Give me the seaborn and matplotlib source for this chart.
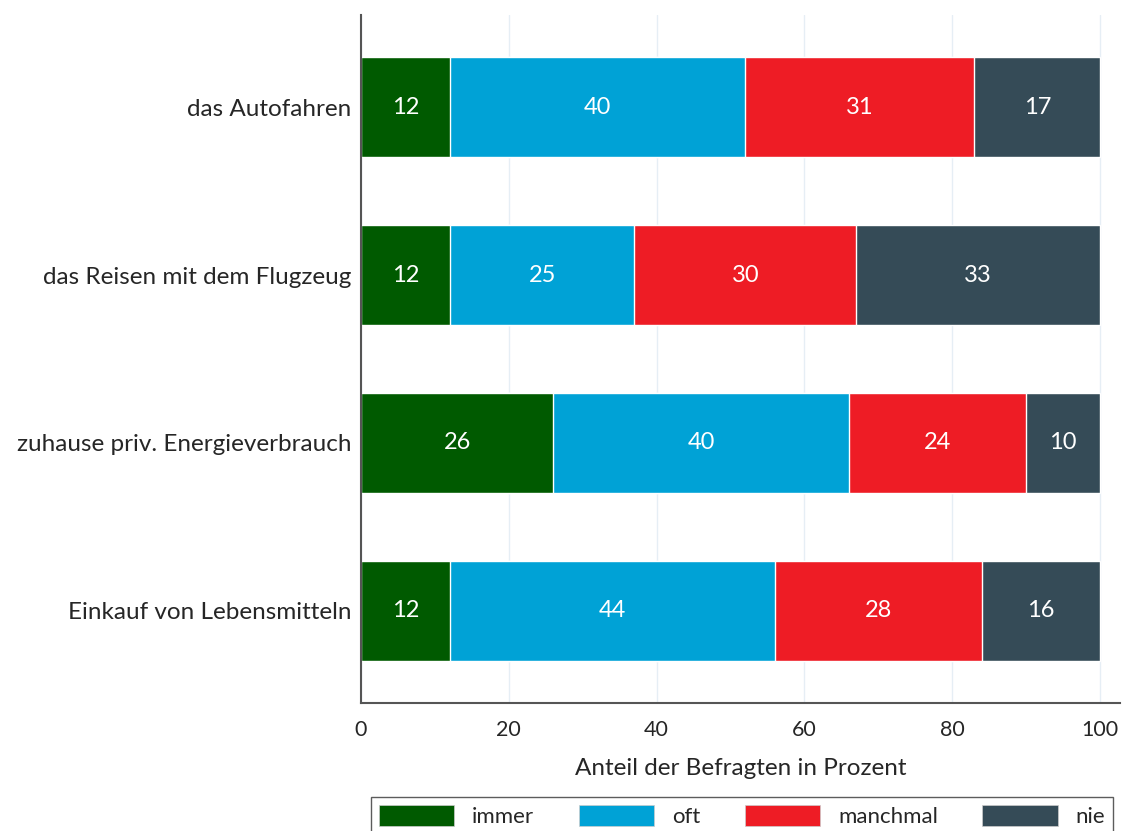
import numpy as np
import pandas as pd
import seaborn as sns
import matplotlib.pyplot as plt
from matplotlib.patches import Patch

# Data
categories = ['das Autofahren', 'das Reisen mit dem Flugzeug',
              'zuhause priv. Energieverbrauch', 'Einkauf von Lebensmitteln']
immer = [12, 12, 26, 12]
oft = [40, 25, 40, 44]
manchmal = [31, 30, 24, 28]
nie = [17, 33, 10, 16]

series = ['immer', 'oft', 'manchmal', 'nie']
colors = ['#005a00', '#00a2d6', '#ee1c25', '#354b57']

sns.set_style('white')
plt.rcParams['font.family'] = ['Lato', 'DejaVu Sans']

values = np.array([immer, oft, manchmal, nie], dtype=float)
cum = values.cumsum(axis=0)

fig = plt.figure(figsize=(11.23, 8.31), dpi=100)
ax = fig.add_axes([361 / 1123, 1 - 703 / 831, (1120 - 361) / 1123, (703 - 15) / 831])

# draw cumulative totals from the largest down so each segment shows
for i in reversed(range(len(series))):
    df = pd.DataFrame({'cat': categories, 'end': cum[i]})
    sns.barplot(data=df, x='end', y='cat', color=colors[i], width=0.595,
                saturation=1, ax=ax, zorder=2)

# segment labels
for i in range(len(series)):
    for j in range(len(categories)):
        start = cum[i][j] - values[i][j]
        ax.text(start + values[i][j] / 2, j, f'{values[i][j]:.0f}',
                ha='center', va='center', color='white', fontsize=17, zorder=3)

ax.set_xlim(0, 102.7)
ax.set_ylim(3.548, -0.548)
ax.set_xticks([0, 20, 40, 60, 80, 100])
ax.set_xlabel('Anteil der Befragten in Prozent', fontsize=17.5, labelpad=13)
ax.set_ylabel('')
ax.tick_params(axis='x', labelsize=15.5, length=6, width=1.2, color='#555555', pad=6)
ax.tick_params(axis='y', labelsize=17.5, length=0, pad=7)
ax.grid(axis='x', color='#e6eef5', linewidth=1, zorder=0)
ax.set_axisbelow(True)

sns.despine(ax=ax)
for s in ['left', 'bottom']:
    ax.spines[s].set_color('#555555')
    ax.spines[s].set_linewidth(1.5)

handles = [Patch(facecolor=c, edgecolor='#cccccc', linewidth=0.5) for c in colors]
fig.legend(handles, series, loc='upper center', ncol=4,
           bbox_to_anchor=(742 / 1123, 1 - 797 / 831), fontsize=16,
           frameon=True, fancybox=False, edgecolor='#333333',
           handlelength=3.4, handleheight=1.1, columnspacing=2.0,
           handletextpad=0.8, borderpad=0.35, borderaxespad=0)

fig.savefig('out.png', dpi=100)
